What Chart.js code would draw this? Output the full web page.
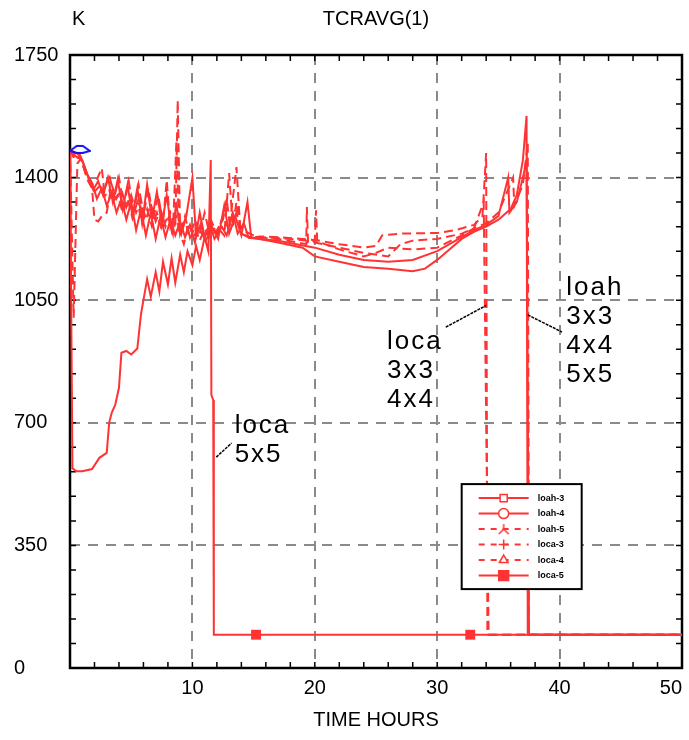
<!DOCTYPE html>
<html>
<head>
<meta charset="utf-8">
<script src="https://cdn.jsdelivr.net/npm/chart.js@4.4.0/dist/chart.umd.min.js"></script>
<style>
  html, body { margin: 0; padding: 0; background: #fff; }
  #wrap { width: 689px; height: 740px; position: relative; }
</style>
</head>
<body>
<div id="wrap"><canvas id="tcChart"></canvas></div>
<script>
/* ---------- data (hours / K) ---------- */
const loah3T = [0, 0.5, 0.8, 1.1, 1.5, 1.9, 2.3, 2.7, 3.1, 3.5, 3.9, 4.3, 4.7, 5.1, 5.5, 5.9, 6.3, 6.7, 7.1, 7.5, 7.9, 8.3, 8.7, 9.1, 9.5, 10.0, 10.3, 10.7, 11.1, 11.6, 12.1, 12.6, 13.0, 13.5, 14.0, 14.5, 14.8, 15.5, 17, 20, 22, 24, 26, 28, 30, 31, 32, 33, 34, 35, 35.8, 35.9, 36.5, 37.0, 37.3, 37.5, 50];
const loah3K = [1480, 1470, 1465, 1440, 1400, 1365, 1390, 1350, 1400, 1330, 1395, 1310, 1380, 1290, 1370, 1270, 1380, 1280, 1360, 1265, 1350, 1250, 1320, 1240, 1290, 1400, 1230, 1270, 1220, 1260, 1225, 1320, 1240, 1290, 1235, 1330, 1230, 1225, 1220, 1200, 1180, 1165, 1160, 1165, 1190, 1210, 1230, 1250, 1265, 1290, 1400, 1300, 1330, 1400, 1450, 95, 95];

const loah4T = [0, 0.5, 1.0, 1.4, 1.8, 2.2, 2.6, 3.0, 3.4, 3.8, 4.2, 4.6, 5.0, 5.4, 5.8, 6.2, 6.6, 7.0, 7.4, 7.8, 8.2, 8.6, 9.0, 9.4, 9.8, 10.2, 10.6, 11.0, 11.4, 11.8, 12.4, 12.8, 13.3, 13.7, 14.2, 14.6, 15.5, 17, 19, 20, 22, 24, 26, 28, 29, 30, 31, 32, 33, 34, 35, 36, 36.5, 37.0, 37.3, 37.4, 50];
const loah4K = [1480, 1460, 1450, 1410, 1385, 1340, 1370, 1320, 1355, 1300, 1340, 1280, 1330, 1250, 1310, 1235, 1300, 1225, 1290, 1230, 1280, 1235, 1275, 1230, 1265, 1215, 1300, 1230, 1270, 1225, 1260, 1235, 1300, 1240, 1270, 1228, 1225, 1215, 1200, 1175, 1160, 1145, 1140, 1133, 1140, 1165, 1195, 1225, 1245, 1260, 1280, 1310, 1350, 1450, 1576, 95, 95];

const loah5T = [0, 0.4, 0.7, 1.0, 1.4, 1.8, 2.0, 2.3, 2.6, 3.0, 3.4, 3.8, 4.2, 4.6, 5.0, 5.4, 5.8, 6.2, 6.6, 7.0, 7.4, 7.8, 8.2, 8.6, 8.8, 9.0, 9.4, 9.8, 10.2, 10.6, 11.0, 11.4, 12.0, 12.5, 12.8, 13.1, 13.6, 14.0, 14.6, 15.5, 17, 20, 20.1, 20.2, 22, 24, 25, 26, 28, 30, 32, 33, 34, 35, 36.2, 36.3, 37.0, 37.4, 37.5, 50];
const loah5K = [1480, 1455, 1465, 1445, 1395, 1370, 1280, 1275, 1290, 1300, 1380, 1340, 1365, 1315, 1350, 1300, 1335, 1280, 1325, 1275, 1310, 1260, 1300, 1255, 1621, 1240, 1280, 1225, 1260, 1220, 1255, 1230, 1250, 1280, 1340, 1250, 1300, 1240, 1230, 1228, 1228, 1218, 1307, 1218, 1195, 1175, 1185, 1200, 1195, 1200, 1235, 1255, 1270, 1300, 1400, 1320, 1380, 1500, 95, 95];

const loca3T = [0, 0.3, 0.6, 0.9, 1.3, 1.8, 2.2, 2.6, 2.8, 3.2, 3.6, 4.0, 4.4, 4.8, 5.2, 5.6, 6.0, 6.4, 6.8, 7.2, 7.6, 7.9, 8.2, 8.6, 9.0, 9.4, 9.8, 10.2, 10.6, 11.0, 11.4, 12.0, 12.6, 13.0, 13.3, 13.6, 14.0, 14.5, 15, 16, 17, 20, 22, 24, 25, 25.5, 27, 30, 31.5, 33, 33.7, 34.0, 34.1, 50];
const loca3K = [1480, 1000, 1440, 1455, 1410, 1380, 1395, 1427, 1360, 1410, 1340, 1400, 1320, 1390, 1300, 1380, 1290, 1370, 1280, 1350, 1270, 1393, 1260, 1300, 1240, 1290, 1230, 1280, 1240, 1300, 1240, 1260, 1235, 1413, 1260, 1330, 1240, 1232, 1230, 1232, 1230, 1222, 1210, 1200, 1205, 1235, 1240, 1242, 1250, 1265, 1290, 1470, 95, 95];

const loca4T = [0, 0.4, 0.8, 1.2, 1.6, 2.0, 2.4, 2.8, 3.2, 3.5, 3.9, 4.3, 4.7, 5.1, 5.5, 5.9, 6.3, 6.7, 7.1, 7.5, 8.0, 8.4, 8.7, 8.9, 9.3, 9.7, 10.1, 10.5, 11.0, 11.5, 12.0, 12.5, 13.0, 13.6, 13.9, 14.4, 15, 16, 17, 19.3, 19.35, 19.45, 20, 22, 24, 26, 27, 28, 30, 32, 33, 33.8, 34.2, 50];
const loca4K = [1480, 1450, 1462, 1420, 1390, 1360, 1375, 1345, 1365, 1330, 1350, 1300, 1340, 1285, 1330, 1270, 1310, 1260, 1300, 1250, 1290, 1240, 1507, 1250, 1210, 1270, 1230, 1260, 1225, 1280, 1240, 1290, 1250, 1430, 1260, 1245, 1235, 1228, 1225, 1210, 1316, 1215, 1215, 1200, 1185, 1175, 1210, 1220, 1225, 1240, 1255, 1330, 95, 95];

const loca5T = [0, 0.2, 0.5, 1.0, 1.8, 2.4, 3.0, 3.2, 3.4, 3.7, 4.0, 4.2, 4.6, 5.0, 5.5, 5.8, 6.0, 6.3, 6.6, 7.0, 7.3, 7.6, 8.0, 8.3, 8.6, 9.0, 9.3, 9.6, 10.0, 10.3, 10.6, 11.0, 11.3, 11.5, 11.55, 11.7, 11.75, 15.2, 32.7, 50];
const loca5K = [1480, 570, 562, 562, 568, 600, 614, 700, 728, 752, 800, 900, 905, 895, 912, 1010, 1050, 1110, 1060, 1130, 1075, 1160, 1095, 1170, 1100, 1180, 1130, 1190, 1150, 1205, 1165, 1230, 1190, 1450, 780, 765, 95, 95, 95, 95];
const loca5Marks = [15.2, 32.7];

const initT = [0.8];
const initK = [1482];

const xTicks = [10, 20, 30, 40, 50];
const yTicks = [0, 350, 700, 1050, 1400, 1750];

/* ---------- look ---------- */
const RED = '#ff3333';
const GRID = '#8a8a8a';
const FONT = '"Liberation Sans", Arial, Helvetica, sans-serif';

const pts = (ts, ks) => ts.map((t, i) => ({ x: t, y: ks[i] }));

function makeMarker(w, h, draw) {
    const c = document.createElement('canvas');
    c.width = w; c.height = h;
    draw(c.getContext('2d'));
    return c;
}

/* small blue outline at the start value */
const lensMark = makeMarker(22, 10, g => {
    g.strokeStyle = '#1010ff';
    g.lineWidth = 2;
    g.beginPath();
    g.moveTo(1, 7); g.lineTo(8, 2); g.lineTo(14, 2); g.lineTo(21, 7);
    g.lineTo(14, 9); g.lineTo(8, 9); g.closePath();
    g.stroke();
});

/* Y-shaped symbol used for loah-5 */
const yMark = makeMarker(12, 12, g => {
    g.strokeStyle = RED;
    g.lineWidth = 1.5;
    g.beginPath();
    g.moveTo(6, 1); g.lineTo(6, 6);
    g.moveTo(6, 6); g.lineTo(1, 11);
    g.moveTo(6, 6); g.lineTo(11, 11);
    g.stroke();
});

function series(label, ts, ks, dash, marker, filled) {
    return {
        label: label,
        data: pts(ts, ks),
        borderColor: RED,
        backgroundColor: RED,
        borderWidth: 2,
        borderDash: dash,
        pointRadius: 0,
        tension: 0,
        legendMarker: marker,
        legendFilled: filled
    };
}

const datasets = [
    {
        label: 'start',
        data: pts(initT, initK),
        showLine: false,
        pointStyle: lensMark,
        pointRadius: 6,
        borderColor: '#1010ff',
        backgroundColor: '#1010ff',
        noLegend: true
    },
    series('loah-3', loah3T, loah3K, [], 'rect', false),
    series('loah-4', loah4T, loah4K, [], 'circle', false),
    series('loah-5', loah5T, loah5K, [9, 5], yMark, false),
    series('loca-3', loca3T, loca3K, [9, 5], 'cross', false),
    series('loca-4', loca4T, loca4K, [9, 5], 'triangle', false),
    Object.assign(series('loca-5', loca5T, loca5K, [], 'rect', true), {
        pointStyle: 'rect',
        pointRadius: c => (c.raw && loca5Marks.includes(c.raw.x)) ? 7 : 0,
        pointBorderWidth: 0
    })
];

/* ---------- plugins ---------- */

// box frame with inward minor/major ticks, drawn under the curves
const framePlugin = {
    id: 'frame',
    beforeDatasetsDraw(chart) {
        const { ctx, chartArea: a, scales: { x, y } } = chart;
        ctx.save();
        ctx.strokeStyle = '#000';
        ctx.lineWidth = 1.5;
        ctx.beginPath();
        for (let h = 2; h < 50; h += 2) {
            const px = x.getPixelForValue(h);
            ctx.moveTo(px, a.bottom); ctx.lineTo(px, a.bottom - 6);
            ctx.moveTo(px, a.top);    ctx.lineTo(px, a.top + 6);
        }
        for (let k = 70; k < 1750; k += 70) {
            const py = y.getPixelForValue(k);
            ctx.moveTo(a.left, py);  ctx.lineTo(a.left + 6, py);
            ctx.moveTo(a.right, py); ctx.lineTo(a.right - 6, py);
        }
        ctx.stroke();
        ctx.lineWidth = 2.5;
        ctx.strokeRect(a.left, a.top, a.right - a.left, a.bottom - a.top);

        // unit + title above the frame
        ctx.fillStyle = '#000';
        ctx.font = '20px ' + FONT;
        ctx.textBaseline = 'middle';
        ctx.textAlign = 'left';
        ctx.fillText('K', a.left + 2, 19);
        ctx.textAlign = 'center';
        ctx.fillText('TCRAVG(1)', (a.left + a.right) / 2, 19);
        ctx.restore();
    }
};

// case labels with leader lines (anchored in data units)
const notesPlugin = {
    id: 'notes',
    afterDatasetsDraw(chart) {
        const { ctx, scales: { x, y } } = chart;
        const notes = [
            { t: 13.45, k: 716,  lines: ['loca', '5x5'],               lead: [11.95, 602, 13.2, 642] },
            { t: 25.9,  k: 958,  lines: ['loca', '3x3', '4x4'],        lead: [30.7, 973, 34.0, 1035] },
            { t: 40.55, k: 1110, lines: ['loah', '3x3', '4x4', '5x5'], lead: [37.4, 1008, 40.2, 959] }
        ];
        ctx.save();
        ctx.fillStyle = '#000';
        ctx.strokeStyle = '#000';
        ctx.font = '26px ' + FONT;
        ctx.letterSpacing = '2px';
        ctx.textAlign = 'left';
        ctx.textBaseline = 'top';
        notes.forEach(n => {
            const px = x.getPixelForValue(n.t);
            const py = y.getPixelForValue(n.k) - 4;
            n.lines.forEach((s, i) => ctx.fillText(s, px, py + i * 29));
            ctx.lineWidth = 1.5;
            ctx.setLineDash([3, 1]);
            ctx.beginPath();
            ctx.moveTo(x.getPixelForValue(n.lead[0]), y.getPixelForValue(n.lead[1]));
            ctx.lineTo(x.getPixelForValue(n.lead[2]), y.getPixelForValue(n.lead[3]));
            ctx.stroke();
            ctx.setLineDash([]);
        });
        ctx.restore();
    }
};

// small boxed legend inside the plot
const boxLegendPlugin = {
    id: 'boxLegend',
    afterDatasetsDraw(chart) {
        const { ctx, scales: { x, y } } = chart;
        const items = chart.data.datasets.filter(d => !d.noLegend);
        const left = x.getPixelForValue(32.0);
        const top = y.getPixelForValue(525);
        const w = 120, rowH = 15.5, h = 12 + items.length * rowH;
        ctx.save();
        ctx.fillStyle = '#fff';
        ctx.fillRect(left, top, w, h);
        ctx.strokeStyle = '#000';
        ctx.lineWidth = 2;
        ctx.strokeRect(left, top, w, h);
        items.forEach((d, i) => {
            const cy = top + 14 + i * rowH;
            ctx.strokeStyle = d.borderColor;
            ctx.lineWidth = 2;
            ctx.setLineDash(d.borderDash && d.borderDash.length ? [6, 6] : []);
            ctx.beginPath();
            ctx.moveTo(left + 17, cy);
            ctx.lineTo(left + 67, cy);
            ctx.stroke();
            ctx.setLineDash([]);
            ctx.fillStyle = d.legendFilled ? d.borderColor : '#fff';
            ctx.lineWidth = 1.5;
            Chart.helpers.drawPoint(ctx, {
                pointStyle: d.legendMarker,
                radius: d.legendFilled ? 7 : 5,
                borderWidth: 1.5,
                rotation: 0
            }, left + 42, cy);
            ctx.fillStyle = '#000';
            ctx.font = 'bold 9px ' + FONT;
            ctx.textAlign = 'left';
            ctx.textBaseline = 'middle';
            ctx.fillText(d.label, left + 76, cy);
        });
        ctx.restore();
    }
};

/* ---------- chart ---------- */
const edgeHidden = (c, lo, hi) =>
    (c.tick && (c.tick.value === lo || c.tick.value === hi)) ? 'rgba(0,0,0,0)' : GRID;

new Chart(document.getElementById('tcChart'), {
    type: 'line',
    data: { datasets: datasets },
    options: {
        responsive: true,
        maintainAspectRatio: false,
        animation: false,
        layout: { padding: { left: 14, right: 5, top: 55, bottom: 0 } },
        plugins: {
            legend: { display: false },
            tooltip: { enabled: false }
        },
        scales: {
            x: {
                type: 'linear',
                min: 0, max: 50,
                afterBuildTicks: s => { s.ticks = [0].concat(xTicks).map(v => ({ value: v })); },
                ticks: {
                    color: '#000',
                    padding: 8,
                    maxRotation: 0,
                    align: 'inner',
                    font: { family: FONT, size: 20 },
                    callback: v => v === 0 ? '' : String(v)
                },
                grid: { color: c => edgeHidden(c, 0, 50), lineWidth: 2, drawTicks: false },
                border: { display: false, dash: [10, 8] },
                title: {
                    display: true,
                    text: 'TIME HOURS',
                    color: '#000',
                    font: { family: FONT, size: 20 },
                    padding: { top: 0, bottom: 8 }
                },
                afterFit: s => { s.height = 72; s.paddingLeft = 0; s.paddingRight = 0; }
            },
            y: {
                min: 0, max: 1750,
                afterBuildTicks: s => { s.ticks = yTicks.map(v => ({ value: v })); },
                ticks: {
                    color: '#000',
                    crossAlign: 'far',
                    font: { family: FONT, size: 20 },
                    callback: v => String(v)
                },
                grid: { color: c => edgeHidden(c, 0, 1750), lineWidth: 2, drawTicks: false },
                border: { display: false, dash: [10, 8] },
                afterFit: s => { s.width = 56; s.paddingTop = 0; s.paddingBottom = 0; }
            }
        }
    },
    plugins: [framePlugin, notesPlugin, boxLegendPlugin]
});
</script>
</body>
</html>
